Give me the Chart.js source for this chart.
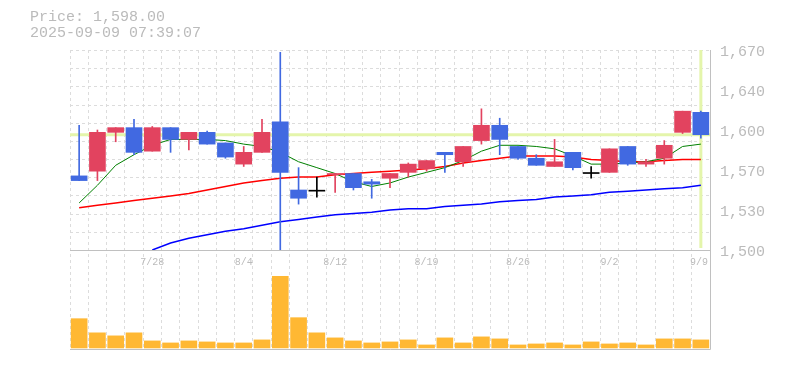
<!DOCTYPE html>
<html lang="ja">
<head>
<meta charset="UTF-8">
<title>Price chart</title>
<script src="https://cdn.jsdelivr.net/npm/chart.js"></script>
<style>
    body {
        margin: 0;
        background: #fff;
        font-family: "Liberation Mono", monospace;
    }

    .wrap {
        position: relative;
        width: 785px;
        height: 370px;
    }

    .info {
        position: absolute;
        left: 30px;
        top: 10px;
        font-size: 15px;
        line-height: 16px;
        color: #bbb;
        white-space: pre;
    }
</style>
</head>
<body>
<div class="wrap">
    <canvas id="priceChart"></canvas>
    <div class="info" id="info"></div>
</div>

<script>
    // daily data, 7/22 .. 9/9
    const dates = ['7/22', '7/23', '7/24', '7/25', '7/28', '7/29', '7/30', '7/31', '8/1',
        '8/4', '8/5', '8/6', '8/7', '8/8', '8/12', '8/13', '8/14', '8/15',
        '8/18', '8/19', '8/20', '8/21', '8/22', '8/25', '8/26', '8/27', '8/28', '8/29',
        '9/1', '9/2', '9/3', '9/4', '9/5', '9/8', '9/9'];

    const opens  = [1563, 1567, 1600, 1604, 1584, 1604, 1594, 1600, 1591,
        1573, 1583, 1609, 1551, 1550, 1564, 1565, 1558, 1561,
        1566, 1569, 1583, 1575, 1593, 1606, 1588, 1578, 1571, 1583,
        1565, 1566, 1588, 1573, 1578, 1600, 1617];
    const highs  = [1606, 1602, 1604, 1611, 1605, 1604, 1600, 1601, 1591,
        1588, 1611, 1668, 1570, 1562, 1565, 1565, 1560, 1565,
        1574, 1576, 1583, 1588, 1620, 1612, 1588, 1581, 1594, 1583,
        1571, 1586, 1588, 1577, 1593, 1618, 1618];
    const lows   = [1559, 1559, 1592, 1581, 1584, 1583, 1585, 1590, 1578,
        1571, 1583, 1500, 1539, 1545, 1549, 1551, 1544, 1553,
        1562, 1567, 1566, 1571, 1590, 1581, 1577, 1572, 1571, 1568,
        1561, 1566, 1572, 1571, 1573, 1599, 1595];
    const closes = [1559, 1600, 1604, 1583, 1604, 1594, 1600, 1590, 1579,
        1583, 1600, 1566, 1544, 1550, 1565, 1553, 1556, 1565,
        1573, 1576, 1581, 1588, 1606, 1594, 1578, 1572, 1575, 1570,
        1565, 1586, 1573, 1575, 1589, 1618, 1598];

    const ma5  = [1540, 1555, 1572, 1581, 1589, 1594, 1594, 1594, 1593,
        1590, 1588, 1583, 1575, 1570, 1565, 1558, 1554, 1557,
        1562, 1566, 1570, 1576, 1584, 1589, 1589, 1588, 1586, 1580,
        1573, 1573, 1574, 1575, 1578, 1588, 1590];
    const ma25 = [1536, 1538, 1540, 1542, 1544, 1546, 1548, 1551, 1554,
        1557, 1559, 1561, 1562, 1562, 1564, 1565, 1566, 1567,
        1568, 1569, 1571, 1574, 1576, 1578, 1580, 1580, 1580, 1579,
        1577, 1576, 1575, 1575, 1576, 1577, 1577];
    const ma75 = [null, null, null, null, 1500, 1506, 1510, 1513, 1516,
        1518, 1521, 1524, 1526, 1528, 1530, 1531, 1532, 1534,
        1535, 1535, 1537, 1538, 1539, 1541, 1542, 1543, 1545, 1546,
        1547, 1549, 1550, 1551, 1552, 1553, 1555];

    // volume, thousand shares
    const volumes = [29, 15, 12, 15, 7, 5, 7, 6, 5,
        5, 8, 71, 30, 15, 10, 7, 5, 6,
        8, 3, 10, 5, 11, 9, 3, 4, 5, 3,
        6, 4, 5, 3, 9, 9, 8];

    const priceTicks = [1500, 1534, 1568, 1602, 1636, 1670];
    const dateTicks = ['7/28', '8/4', '8/12', '8/19', '8/26', '9/2', '9/9'];
    const lastTime = '2025-09-09 07:39:07';

    const UP = '#e2435f';
    const DOWN = '#4169e1';
    const FLAT = '#000000';
    const GRID = '#dcdcdc';
    const FRAME = '#c0c0c0';
    const TEXT = '#bbbbbb';
    const FONT = '"Liberation Mono", monospace';

    const lastPrice = closes[closes.length - 1];
    document.getElementById('info').textContent =
        'Price: ' + lastPrice.toLocaleString('en-US', {minimumFractionDigits: 2, maximumFractionDigits: 2}) +
        '\n' + lastTime;

    const candleColor = closes.map((c, i) => c > opens[i] ? UP : (c < opens[i] ? DOWN : FLAT));

    // grid rows, crosshair, frame and date labels
    const panelPlugin = {
        id: 'panels',
        beforeDatasetsDraw(chart) {
            const {ctx, chartArea: a, scales: {x, y}} = chart;
            ctx.save();
            ctx.lineWidth = 1;
            ctx.strokeStyle = GRID;
            ctx.setLineDash([3, 3]);
            const rows = 11;
            for (let k = 1; k <= rows; k++) {
                const py = Math.round(y.getPixelForValue(y.min + k * (y.max - y.min) / rows)) + 0.5;
                ctx.beginPath();
                ctx.moveTo(a.left, py);
                ctx.lineTo(a.right, py);
                ctx.stroke();
            }
            ctx.setLineDash([]);

            // crosshair on the last price
            ctx.strokeStyle = '#e4f5ab';
            ctx.lineWidth = 3;
            const cy = y.getPixelForValue(lastPrice);
            ctx.beginPath();
            ctx.moveTo(a.left, cy);
            ctx.lineTo(a.right, cy);
            ctx.stroke();
            const cx = x.getPixelForValue(dates.length - 1);
            ctx.beginPath();
            ctx.moveTo(cx, y.top);
            ctx.lineTo(cx, y.bottom - 2);
            ctx.stroke();
            ctx.restore();
        },
        afterDatasetsDraw(chart) {
            const {ctx, chartArea: a, scales: {x, y}} = chart;
            ctx.save();
            ctx.strokeStyle = FRAME;
            ctx.lineWidth = 1;
            const r = Math.round(a.right) + 0.5;
            const mid = Math.round(y.bottom) + 0.5;
            const bot = Math.round(a.bottom) - 0.5;
            ctx.beginPath();
            ctx.moveTo(r, a.top);
            ctx.lineTo(r, bot);
            ctx.moveTo(a.left, mid);
            ctx.lineTo(r, mid);
            ctx.moveTo(a.left, bot);
            ctx.lineTo(r, bot);
            ctx.stroke();

            ctx.fillStyle = TEXT;
            ctx.font = '10px ' + FONT;
            ctx.textAlign = 'center';
            ctx.textBaseline = 'middle';
            dateTicks.forEach(d => {
                const i = dates.indexOf(d);
                const w = ctx.measureText(d).width;
                const px = Math.min(x.getPixelForValue(i), a.right - w / 2 - 2);
                ctx.fillText(d, px, y.bottom + 12);
            });
            ctx.restore();
        }
    };

    new Chart(document.getElementById('priceChart'), {
        type: 'bar',
        data: {
            labels: dates,
            datasets: [
                {
                    label: 'body',
                    data: opens.map((o, i) => [o, closes[i]]),
                    backgroundColor: candleColor,
                    barThickness: 16,
                    minBarLength: 1,
                    grouped: false,
                    yAxisID: 'y',
                    order: 1
                },
                {
                    label: 'wick',
                    data: lows.map((l, i) => [l, highs[i]]),
                    backgroundColor: candleColor,
                    barThickness: 1,
                    grouped: false,
                    yAxisID: 'y',
                    order: 2
                },
                {
                    type: 'line',
                    label: 'MA5',
                    data: ma5,
                    borderColor: '#008000',
                    borderWidth: 1,
                    pointRadius: 0,
                    yAxisID: 'y',
                    order: 3
                },
                {
                    type: 'line',
                    label: 'MA25',
                    data: ma25,
                    borderColor: '#ff0000',
                    borderWidth: 1.5,
                    pointRadius: 0,
                    yAxisID: 'y',
                    order: 4
                },
                {
                    type: 'line',
                    label: 'MA75',
                    data: ma75,
                    borderColor: '#0000ff',
                    borderWidth: 1.5,
                    pointRadius: 0,
                    yAxisID: 'y',
                    order: 5
                },
                {
                    label: 'Volume',
                    data: volumes,
                    backgroundColor: '#ffb833',
                    barThickness: 16,
                    grouped: false,
                    yAxisID: 'v',
                    order: 6
                }
            ]
        },
        options: {
            responsive: true,
            maintainAspectRatio: false,
            animation: false,
            layout: {
                padding: {left: 70, top: 50, right: 0, bottom: 20}
            },
            plugins: {
                legend: {display: false},
                tooltip: {enabled: false}
            },
            scales: {
                x: {
                    grid: {color: GRID, drawTicks: false, offset: true},
                    border: {display: false, dash: [3, 3]},
                    ticks: {display: false},
                    afterFit: s => { s.height = 0; }
                },
                y: {
                    position: 'right',
                    stack: 'panels',
                    stackWeight: 2,
                    min: 1500,
                    max: 1670,
                    afterBuildTicks: s => { s.ticks = priceTicks.map(v => ({value: v})); },
                    ticks: {
                        autoSkip: false,
                        padding: 10,
                        labelOffset: 2,
                        color: TEXT,
                        font: {family: FONT, size: 15},
                        callback: v => (Math.round(v / 10) * 10).toLocaleString('en-US')
                    },
                    grid: {display: false, drawTicks: false},
                    border: {display: false},
                    afterFit: s => { s.width = 75; }
                },
                v: {
                    position: 'right',
                    stack: 'panels',
                    stackWeight: 1,
                    min: -2,
                    max: 97,
                    ticks: {display: false},
                    grid: {display: false, drawTicks: false},
                    border: {display: false},
                    afterFit: s => { s.width = 75; }
                }
            }
        },
        plugins: [panelPlugin]
    });
</script>
</body>
</html>
